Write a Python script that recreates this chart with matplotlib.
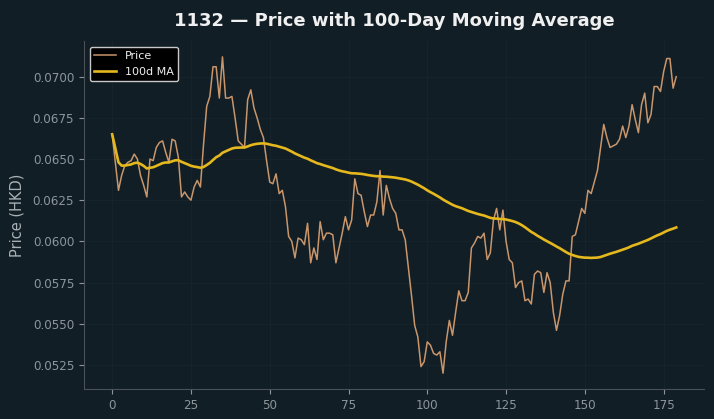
import numpy as np
import pandas as pd
import matplotlib.pyplot as plt

# daily closing price (180 trading days)
price = [
    0.0665, 0.0648, 0.0631, 0.0640, 0.0646, 0.0648, 0.0649, 0.0653, 0.0650, 0.0640,
    0.0634, 0.0627, 0.0650, 0.0649, 0.0657, 0.0660, 0.0661, 0.0654, 0.0648, 0.0662,
    0.0661, 0.0651, 0.0627, 0.0630, 0.0627, 0.0625, 0.0633, 0.0637, 0.0633, 0.0659,
    0.0682, 0.0688, 0.0706, 0.0706, 0.0687, 0.0712, 0.0687, 0.0687, 0.0688, 0.0675,
    0.0661, 0.0659, 0.0657, 0.0686, 0.0692, 0.0681, 0.0675, 0.0668, 0.0663, 0.0649,
    0.0636, 0.0635, 0.0641, 0.0629, 0.0631, 0.0621, 0.0603, 0.0600, 0.0590, 0.0602,
    0.0601, 0.0598, 0.0611, 0.0587, 0.0596, 0.0589, 0.0612, 0.0601, 0.0605, 0.0605,
    0.0604, 0.0587, 0.0596, 0.0605, 0.0615, 0.0607, 0.0613, 0.0638, 0.0629, 0.0628,
    0.0618, 0.0609, 0.0616, 0.0616, 0.0624, 0.0643, 0.0616, 0.0634, 0.0626, 0.0620,
    0.0617, 0.0607, 0.0607, 0.0601, 0.0584, 0.0567, 0.0549, 0.0542, 0.0524, 0.0527,
    0.0539, 0.0537, 0.0532, 0.0531, 0.0533, 0.0520, 0.0539, 0.0552, 0.0543, 0.0557,
    0.0570, 0.0564, 0.0564, 0.0569, 0.0596, 0.0599, 0.0603, 0.0602, 0.0605, 0.0589,
    0.0593, 0.0613, 0.0620, 0.0607, 0.0619, 0.0600, 0.0589, 0.0587, 0.0572, 0.0575,
    0.0576, 0.0564, 0.0565, 0.0562, 0.0580, 0.0582, 0.0581, 0.0569, 0.0581, 0.0575,
    0.0557, 0.0546, 0.0555, 0.0568, 0.0576, 0.0576, 0.0603, 0.0604, 0.0612, 0.0620,
    0.0617, 0.0631, 0.0629, 0.0636, 0.0643, 0.0657, 0.0671, 0.0663, 0.0657, 0.0658,
    0.0659, 0.0662, 0.0670, 0.0663, 0.0670, 0.0683, 0.0674, 0.0666, 0.0683, 0.0690,
    0.0672, 0.0677, 0.0694, 0.0694, 0.0691, 0.0703, 0.0711, 0.0711, 0.0693, 0.0700,
]
TICKER = "1132"
WINDOW = 100

BG = "#111e25"
PRICE_COLOR = "#c9956b"
MA_COLOR = "#e5b81e"
TEXT = "#8c969b"

df = pd.DataFrame({"price": price})
df["ma"] = df["price"].rolling(WINDOW, min_periods=1).mean()

fig = plt.figure(figsize=(7.14, 4.19), dpi=100, facecolor=BG)
ax = fig.add_axes([0.1176, 0.0716, 0.869, 0.8304], facecolor=BG)

ax.plot(df.index, df["price"], color=PRICE_COLOR, lw=1.1, label="Price")
ax.plot(df.index, df["ma"], color=MA_COLOR, lw=1.9, label=f"{WINDOW}d MA")

ax.set_title(f"{TICKER} \u2014 Price with {WINDOW}-Day Moving Average",
             color="#f0f0f0", fontsize=13, fontweight="bold", pad=11)
ax.set_ylabel("Price (HKD)", color="#a9b1b5", fontsize=10.5, labelpad=6)
ax.yaxis.set_major_formatter(plt.FormatStrFormatter("%.4f"))
ax.set_yticks(np.arange(0.0525, 0.0701, 0.0025))
ax.set_xticks(np.arange(0, 176, 25))

ax.tick_params(colors=TEXT, labelsize=8.6, length=3.5)
for s in ["top", "right"]:
    ax.spines[s].set_visible(False)
for s in ["left", "bottom"]:
    ax.spines[s].set_color("#4a5257")
ax.grid(color="#17252c", lw=0.6)
ax.set_axisbelow(True)

leg = ax.legend(loc="upper left", fontsize=8, facecolor="black", edgecolor="#c8c8c8",
                framealpha=1.0, labelcolor="#eeeeee")

plt.savefig("out.png", dpi=100, facecolor=BG)
